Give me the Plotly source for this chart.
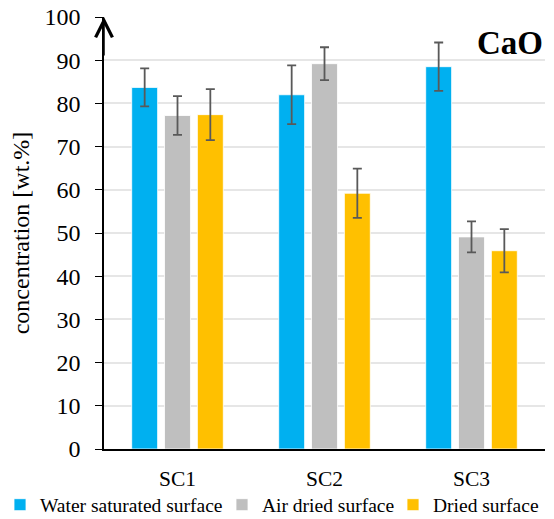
import plotly.graph_objects as go

categories = ["SC1", "SC2", "SC3"]
series_names = ["Water saturated surface", "Air dried surface", "Dried surface"]
water = [83.7, 82.0, 88.5]
air = [77.2, 89.2, 49.1]
dried = [77.4, 59.2, 45.9]
water_err = [4.4, 6.8, 5.6]
air_err = [4.5, 3.8, 3.6]
dried_err = [5.9, 5.7, 5.0]
colors = ["#00B0F0", "#BFBFBF", "#FFC000"]
y_ticks = [0, 10, 20, 30, 40, 50, 60, 70, 80, 90, 100]

FONT = "Liberation Serif"
W, H = 554, 519

legend_ids = ["legend", "legend2", "legend3"]
legend_px = [0, 222, 393]   # left edge of each legend entry, in pixels

fig = go.Figure()
for name, vals, errs, col, lid in zip(series_names, [water, air, dried],
                                      [water_err, air_err, dried_err], colors,
                                      legend_ids):
    fig.add_trace(go.Bar(
        x=categories, y=vals, name=name, legend=lid,
        marker=dict(color=col, line=dict(color="white", width=0.8)),
        error_y=dict(type="data", array=errs, visible=True,
                     color="#595959", thickness=1.8, width=4.5),
    ))

legend_common = dict(orientation="h", xref="container", xanchor="left",
                     yref="container", y=1 - 505 / H, yanchor="middle",
                     font=dict(family=FONT, size=19.5, color="black"),
                     itemwidth=30, bgcolor="rgba(0,0,0,0)")

fig.update_layout(
    width=W, height=H,
    margin=dict(l=104, r=9, t=17, b=70, autoexpand=False),
    paper_bgcolor="white", plot_bgcolor="white",
    barmode="group", bargap=0.33, bargroupgap=0.21,
    font=dict(family=FONT, color="black"),
    showlegend=True,
    legend=dict(x=legend_px[0] / W, **legend_common),
    legend2=dict(x=legend_px[1] / W, **legend_common),
    legend3=dict(x=legend_px[2] / W, **legend_common),
    xaxis=dict(showline=True, linecolor="black", linewidth=1.5,
               ticks="", ticklabelstandoff=9,
               tickfont=dict(family=FONT, size=21.5, color="black"),
               showgrid=False),
    yaxis=dict(range=[0, 100], tickvals=y_ticks, showline=True, linecolor="black",
               linewidth=1.5, ticks="outside", ticklen=7, tickcolor="black",
               tickwidth=1.2, ticklabelstandoff=10,
               tickfont=dict(family=FONT, size=24, color="black"),
               showgrid=True, gridcolor="#E6E6E6", gridwidth=1.5, zeroline=False,
               title=dict(text="concentration [wt.%]",
                          font=dict(family=FONT, size=24, color="black"),
                          standoff=8)),
)

fig.add_annotation(xref="paper", yref="paper", x=0, y=1.0, ax=0, ay=40,
                   showarrow=True, arrowhead=5, arrowwidth=1.5, arrowsize=2.2,
                   arrowcolor="black", text="")
fig.add_annotation(xref="paper", yref="paper", x=1.0, y=0.94, xanchor="right",
                   yanchor="middle", showarrow=False, text="<b>CaO</b>",
                   font=dict(family=FONT, size=33, color="black"))

fig.write_html("out.html", config={"displayModeBar": False},
               post_script="document.body.style.margin='0';")
